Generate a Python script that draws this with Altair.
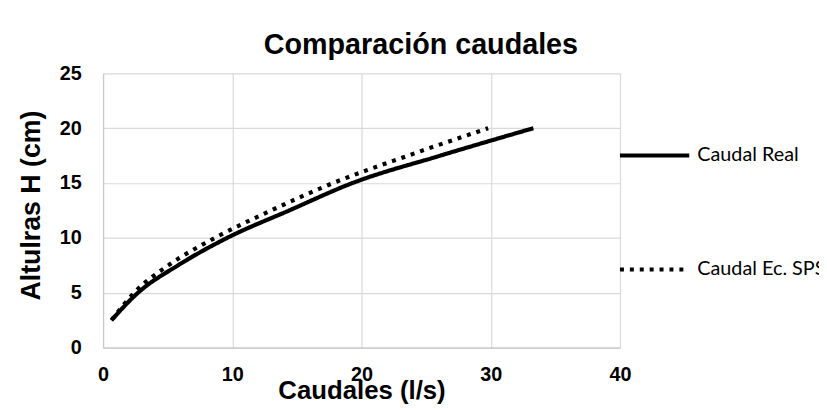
import altair as alt
import pandas as pd

# ---- data ----
alturas_h = [2.5, 5, 7.5, 10, 12.5, 15, 17.5, 20]
caudal_real = [0.65, 2.7, 5.8, 9.6, 14.4, 19.3, 26.1, 33.3]
caudal_spss = [0.65, 2.4, 5.05, 8.65, 13.0, 17.8, 23.6, 29.8]
series = ["Caudal Real", "Caudal Ec. SPSS"]
x_ticks = [0, 10, 20, 30, 40]
y_ticks = [0, 5, 10, 15, 20, 25]

rows = []
for h, q in zip(alturas_h, caudal_real):
    rows.append({"serie": series[0], "Q": q, "H": h})
for h, q in zip(alturas_h, caudal_spss):
    rows.append({"serie": series[1], "Q": q, "H": h})
df = pd.DataFrame(rows)

FONT = "Liberation Sans"

x_enc = alt.X(
    "Q:Q",
    scale=alt.Scale(domain=[0, 40], nice=False),
    axis=alt.Axis(
        values=x_ticks,
        title="Caudales (l/s)",
        titleFontSize=26,
        titleFont=FONT,
        titleFontWeight="bold",
        titleColor="black",
        titleBaseline="alphabetic",
        titleX=261,
        titleY=51,
        labelFontSize=20,
        labelFont=FONT,
        labelFontWeight="bold",
        labelColor="black",
        labelPadding=17,
        labelFlush=False,
    ),
)
y_enc = alt.Y(
    "H:Q",
    scale=alt.Scale(domain=[0, 25], nice=False),
    axis=alt.Axis(
        values=y_ticks,
        title="Altulras H (cm)",
        titleFontSize=27,
        titleFont=FONT,
        titleFontWeight="bold",
        titleColor="black",
        titleAngle=270,
        titleBaseline="alphabetic",
        titleX=-64,
        titleY=133,
        labelFontSize=20,
        labelFont=FONT,
        labelFontWeight="bold",
        labelColor="black",
        labelPadding=22,
        labelFlush=False,
    ),
)

lines = (
    alt.Chart(df)
    .mark_line(interpolate="monotone", color="black", strokeWidth=4.2, strokeCap="butt")
    .encode(
        x=x_enc,
        y=y_enc,
        strokeDash=alt.StrokeDash(
            "serie:N",
            scale=alt.Scale(domain=series, range=[[1, 0], [4, 6]]),
            legend=alt.Legend(
                title=None,
                orient="none",
                legendX=520,
                legendY=46,
                padding=0,
                symbolType="stroke",
                symbolSize=4900,
                symbolStrokeWidth=4,
                symbolStrokeColor="black",
                labelFont="Lato",
                labelFontSize=20,
                labelColor="black",
                labelOffset=6,
                labelLimit=400,
                rowPadding=68,
            ),
        ),
    )
)

chart = (
    lines
    .properties(
        width=522,
        height=277,
        title=alt.TitleParams(
            "Comparación caudales",
            font=FONT,
            fontSize=29,
            fontWeight="bold",
            color="black",
            anchor="middle",
            baseline="alphabetic",
            offset=19,
            dx=60,
            dy=38,
        ),
        autosize=alt.AutoSizeParams(type="none"),
        padding={"left": 96, "top": 64, "right": 201, "bottom": 61},
    )
    .configure_view(stroke=None)
    .configure_axis(
        grid=True,
        gridColor="#d9d9d9",
        gridWidth=1.2,
        domainColor="#c8c8c8",
        domainWidth=1.2,
        ticks=False,
        tickSize=0,
    )
)

chart.save("out.html", embed_options={"renderer": "svg", "actions": False})
